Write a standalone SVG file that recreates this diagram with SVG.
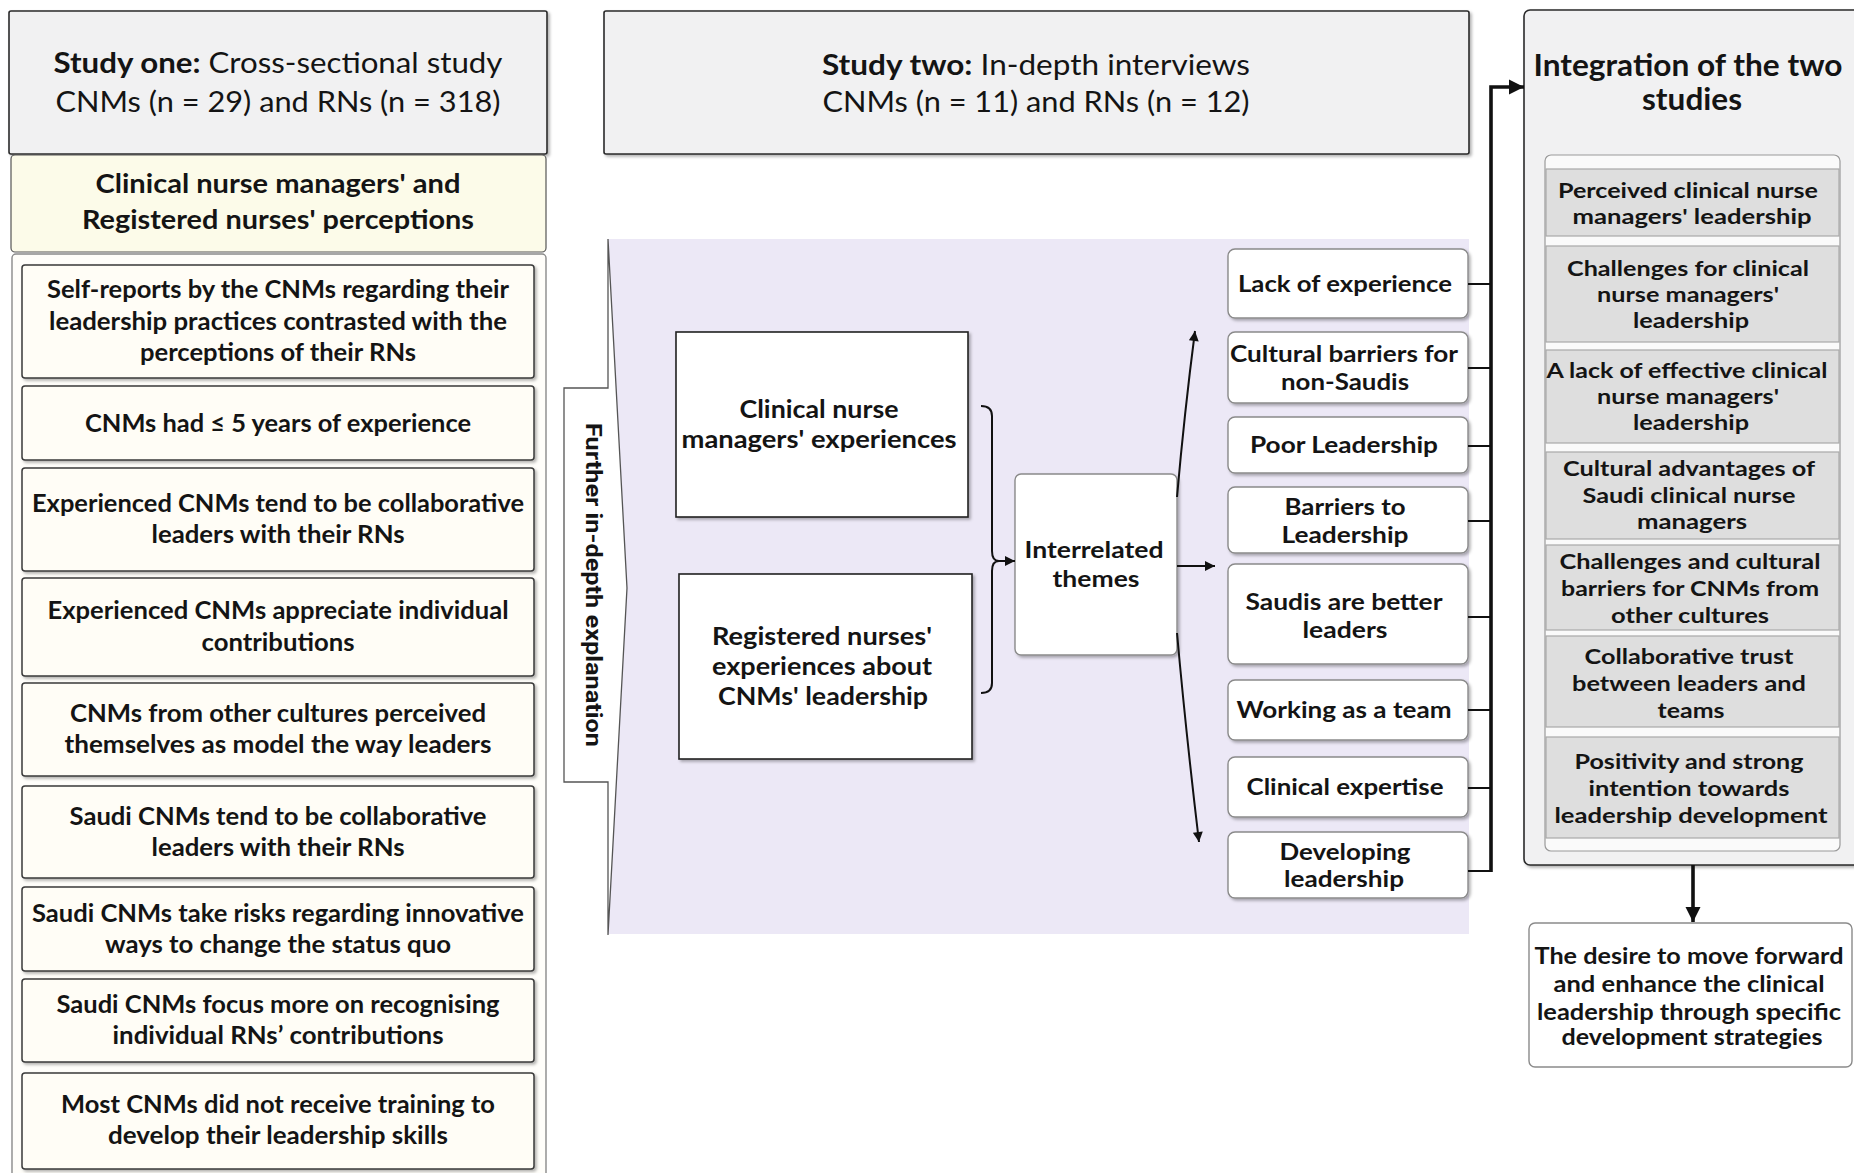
<svg xmlns="http://www.w3.org/2000/svg" width="1854" height="1173" viewBox="0 0 1854 1173">
  <defs>
    <style>
      text { font-family: Lato, "Liberation Sans", sans-serif; fill: #141414; text-anchor: middle; }
      .b { font-weight: 700; }
      .hdr { font-size: 28px; }
      .cream { font-size: 27px; font-weight: 700; }
      .item { font-size: 25.5px; font-weight: 700; }
      .mid { font-size: 25.5px; font-weight: 700; }
      .theme { font-size: 23.5px; font-weight: 700; }
      .intg { font-size: 30px; font-weight: 700; }
      .res { font-size: 21.5px; font-weight: 700; }
      .fin { font-size: 23px; font-weight: 700; }
      .side { font-family: Roboto, "Liberation Sans", sans-serif; font-size: 22px; font-weight: 700; }
      .studybox { fill: #f1f1f2; stroke: #2a2a2a; stroke-width: 1.6; }
      .itembox { fill: #fffdf6; stroke: #3a3a3a; stroke-width: 1.5; }
      .plainbox { fill: #ffffff; stroke: #222; stroke-width: 1.6; }
      .themebox { fill: #ffffff; stroke: #8a8a8a; stroke-width: 1.4; }
      .resbox { fill: #dedede; stroke: #a8a8a8; stroke-width: 1.2; }
      .thin { fill: none; stroke: #111; stroke-width: 2; }
      .thick { fill: none; stroke: #111; stroke-width: 3.6; }
    </style>
    <filter id="sh" x="-5%" y="-5%" width="115%" height="120%">
      <feDropShadow dx="2" dy="2" stdDeviation="1.5" flood-color="#000" flood-opacity="0.3"/>
    </filter>
    <marker id="ah" viewBox="0 0 10 10" refX="10" refY="5" markerWidth="11" markerHeight="10" markerUnits="userSpaceOnUse" orient="auto">
      <path d="M0,0 L10,5 L0,10 z" fill="#111"/>
    </marker>
    <marker id="ahBig" viewBox="0 0 10 10" refX="10" refY="5" markerWidth="15" markerHeight="16" markerUnits="userSpaceOnUse" orient="auto">
      <path d="M0,0 L10,5 L0,10 z" fill="#111"/>
    </marker>
  </defs>

  <rect width="1854" height="1173" fill="#ffffff"/>

  <!-- Study one column -->
  <g id="study-one">
    <rect class="studybox" x="9" y="11" width="538" height="143" rx="2" filter="url(#sh)"/>
    <text class="hdr" x="278" y="73" textLength="449" lengthAdjust="spacingAndGlyphs"><tspan class="b">Study one:</tspan> Cross-sectional study</text>
    <text class="hdr" x="278" y="112" textLength="445" lengthAdjust="spacingAndGlyphs">CNMs (n = 29) and RNs (n = 318)</text>
  </g>

  <g id="perceptions-header">
    <rect x="11" y="155" width="535" height="97" rx="4" fill="#fcfbe9" stroke="#555" stroke-width="1.2"/>
    <text class="cream" x="278" y="193" textLength="365" lengthAdjust="spacingAndGlyphs">Clinical nurse managers' and</text>
    <text class="cream" x="278" y="229" textLength="392" lengthAdjust="spacingAndGlyphs">Registered nurses' perceptions</text>
  </g>

  <g id="findings-list">
    <rect x="12" y="254" width="534" height="940" rx="4" fill="#fffefa" stroke="#8a8a8a" stroke-width="1.4"/>

    <g id="f1">
      <rect class="itembox" x="22" y="265" width="512" height="113" rx="3" filter="url(#sh)"/>
      <text class="item" x="278" y="298" textLength="462" lengthAdjust="spacingAndGlyphs">Self-reports by the CNMs regarding their</text>
      <text class="item" x="278" y="330" textLength="458" lengthAdjust="spacingAndGlyphs">leadership practices contrasted with the</text>
      <text class="item" x="278" y="361" textLength="276" lengthAdjust="spacingAndGlyphs">perceptions of their RNs</text>
    </g>
    <g id="f2">
      <rect class="itembox" x="22" y="386" width="512" height="74" rx="3" filter="url(#sh)"/>
      <text class="item" x="278" y="432" textLength="386" lengthAdjust="spacingAndGlyphs">CNMs had ≤ 5 years of experience</text>
    </g>
    <g id="f3">
      <rect class="itembox" x="22" y="468" width="512" height="103" rx="3" filter="url(#sh)"/>
      <text class="item" x="278" y="512" textLength="492" lengthAdjust="spacingAndGlyphs">Experienced CNMs tend to be collaborative</text>
      <text class="item" x="278" y="543" textLength="253" lengthAdjust="spacingAndGlyphs">leaders with their RNs</text>
    </g>
    <g id="f4">
      <rect class="itembox" x="22" y="578" width="512" height="98" rx="3" filter="url(#sh)"/>
      <text class="item" x="278" y="619" textLength="461" lengthAdjust="spacingAndGlyphs">Experienced CNMs appreciate individual</text>
      <text class="item" x="278" y="651" textLength="153" lengthAdjust="spacingAndGlyphs">contributions</text>
    </g>
    <g id="f5">
      <rect class="itembox" x="22" y="683" width="512" height="93" rx="3" filter="url(#sh)"/>
      <text class="item" x="278" y="722" textLength="416" lengthAdjust="spacingAndGlyphs">CNMs from other cultures perceived</text>
      <text class="item" x="278" y="753" textLength="427" lengthAdjust="spacingAndGlyphs">themselves as model the way leaders</text>
    </g>
    <g id="f6">
      <rect class="itembox" x="22" y="786" width="512" height="92" rx="3" filter="url(#sh)"/>
      <text class="item" x="278" y="825" textLength="417" lengthAdjust="spacingAndGlyphs">Saudi CNMs tend to be collaborative</text>
      <text class="item" x="278" y="856" textLength="253" lengthAdjust="spacingAndGlyphs">leaders with their RNs</text>
    </g>
    <g id="f7">
      <rect class="itembox" x="22" y="887" width="512" height="84" rx="3" filter="url(#sh)"/>
      <text class="item" x="278" y="922" textLength="492" lengthAdjust="spacingAndGlyphs">Saudi CNMs take risks regarding innovative</text>
      <text class="item" x="278" y="953" textLength="346" lengthAdjust="spacingAndGlyphs">ways to change the status quo</text>
    </g>
    <g id="f8">
      <rect class="itembox" x="22" y="979" width="512" height="83" rx="3" filter="url(#sh)"/>
      <text class="item" x="278" y="1013" textLength="443" lengthAdjust="spacingAndGlyphs">Saudi CNMs focus more on recognising</text>
      <text class="item" x="278" y="1044" textLength="331" lengthAdjust="spacingAndGlyphs">individual RNs’ contributions</text>
    </g>
    <g id="f9">
      <rect class="itembox" x="22" y="1073" width="512" height="96" rx="3" filter="url(#sh)"/>
      <text class="item" x="278" y="1113" textLength="434" lengthAdjust="spacingAndGlyphs">Most CNMs did not receive training to</text>
      <text class="item" x="278" y="1144" textLength="340" lengthAdjust="spacingAndGlyphs">develop their leadership skills</text>
    </g>
  </g>

  <!-- Study two column -->
  <g id="study-two">
    <rect class="studybox" x="604" y="11" width="865" height="143" rx="2" filter="url(#sh)"/>
    <text class="hdr" x="1036" y="75" textLength="428" lengthAdjust="spacingAndGlyphs"><tspan class="b">Study two:</tspan> In-depth interviews</text>
    <text class="hdr" x="1036" y="112" textLength="427" lengthAdjust="spacingAndGlyphs">CNMs (n = 11) and RNs (n = 12)</text>
  </g>

  <g id="interview-panel">
    <rect x="608" y="239" width="861" height="695" fill="#ece8f6"/>
  </g>

  <g id="further-explanation">
    <path d="M564,388 L608,388 L608,239 L627,588 L608,935 L608,782 L564,782 Z" fill="#ffffff" stroke="#555" stroke-width="1.3" stroke-linejoin="miter"/>
    <text class="side" transform="translate(586,585) rotate(90)" x="0" y="0" textLength="324" lengthAdjust="spacingAndGlyphs">Further in-depth explanation</text>
  </g>

  <g id="cnm-experiences">
    <rect class="plainbox" x="676" y="332" width="292" height="185" filter="url(#sh)"/>
    <text class="mid" x="819" y="418" textLength="159" lengthAdjust="spacingAndGlyphs">Clinical nurse</text>
    <text class="mid" x="819" y="448" textLength="275" lengthAdjust="spacingAndGlyphs">managers' experiences</text>
  </g>

  <g id="rn-experiences">
    <rect class="plainbox" x="679" y="574" width="293" height="185" filter="url(#sh)"/>
    <text class="mid" x="822" y="645" textLength="220" lengthAdjust="spacingAndGlyphs">Registered nurses'</text>
    <text class="mid" x="822" y="675" textLength="220" lengthAdjust="spacingAndGlyphs">experiences about</text>
    <text class="mid" x="823" y="705" textLength="210" lengthAdjust="spacingAndGlyphs">CNMs' leadership</text>
  </g>

  <g id="interrelated-themes">
    <rect class="themebox" x="1015" y="474" width="162" height="181" rx="6" filter="url(#sh)"/>
    <text class="theme" x="1094" y="558" textLength="139" lengthAdjust="spacingAndGlyphs">Interrelated</text>
    <text class="theme" x="1096" y="587" textLength="87" lengthAdjust="spacingAndGlyphs">themes</text>
  </g>

  <g id="theme-lack-of-experience">
    <rect class="themebox" x="1228" y="249" width="240" height="69" rx="7" filter="url(#sh)"/>
    <text class="theme" x="1345" y="292" textLength="214" lengthAdjust="spacingAndGlyphs">Lack of experience</text>
  </g>
  <g id="theme-cultural-barriers">
    <rect class="themebox" x="1228" y="332" width="240" height="71" rx="7" filter="url(#sh)"/>
    <text class="theme" x="1344" y="362" textLength="228" lengthAdjust="spacingAndGlyphs">Cultural barriers for</text>
    <text class="theme" x="1345" y="390" textLength="128" lengthAdjust="spacingAndGlyphs">non-Saudis</text>
  </g>
  <g id="theme-poor-leadership">
    <rect class="themebox" x="1228" y="417" width="240" height="56" rx="7" filter="url(#sh)"/>
    <text class="theme" x="1344" y="453" textLength="188" lengthAdjust="spacingAndGlyphs">Poor Leadership</text>
  </g>
  <g id="theme-barriers">
    <rect class="themebox" x="1228" y="487" width="240" height="66" rx="7" filter="url(#sh)"/>
    <text class="theme" x="1345" y="515" textLength="121" lengthAdjust="spacingAndGlyphs">Barriers to</text>
    <text class="theme" x="1345" y="543" textLength="127" lengthAdjust="spacingAndGlyphs">Leadership</text>
  </g>
  <g id="theme-saudis-better">
    <rect class="themebox" x="1228" y="564" width="240" height="100" rx="7" filter="url(#sh)"/>
    <text class="theme" x="1344" y="610" textLength="197" lengthAdjust="spacingAndGlyphs">Saudis are better</text>
    <text class="theme" x="1345" y="638" textLength="85" lengthAdjust="spacingAndGlyphs">leaders</text>
  </g>
  <g id="theme-team">
    <rect class="themebox" x="1228" y="680" width="240" height="60" rx="7" filter="url(#sh)"/>
    <text class="theme" x="1344" y="718" textLength="215" lengthAdjust="spacingAndGlyphs">Working as a team</text>
  </g>
  <g id="theme-clinical-expertise">
    <rect class="themebox" x="1228" y="757" width="240" height="60" rx="7" filter="url(#sh)"/>
    <text class="theme" x="1345" y="795" textLength="197" lengthAdjust="spacingAndGlyphs">Clinical expertise</text>
  </g>
  <g id="theme-developing">
    <rect class="themebox" x="1228" y="832" width="240" height="66" rx="7" filter="url(#sh)"/>
    <text class="theme" x="1345" y="860" textLength="131" lengthAdjust="spacingAndGlyphs">Developing</text>
    <text class="theme" x="1344" y="887" textLength="120" lengthAdjust="spacingAndGlyphs">leadership</text>
  </g>

  <!-- Integration column -->
  <g id="integration">
    <rect class="studybox" x="1524" y="10" width="345" height="855" rx="6" filter="url(#sh)"/>
    <text class="intg" x="1688" y="76" textLength="309" lengthAdjust="spacingAndGlyphs">Integration of the two</text>
    <text class="intg" x="1692" y="110" textLength="100" lengthAdjust="spacingAndGlyphs">studies</text>
    <rect x="1545" y="155" width="295" height="696" rx="6" fill="#fafafa" stroke="#9a9a9a" stroke-width="1.2"/>

    <g id="r1">
      <rect class="resbox" x="1546" y="169" width="293" height="67"/>
      <text class="res" x="1688" y="198" textLength="260" lengthAdjust="spacingAndGlyphs">Perceived clinical nurse</text>
      <text class="res" x="1692" y="224" textLength="239" lengthAdjust="spacingAndGlyphs">managers' leadership</text>
    </g>
    <g id="r2">
      <rect class="resbox" x="1546" y="246" width="293" height="96"/>
      <text class="res" x="1688" y="276" textLength="242" lengthAdjust="spacingAndGlyphs">Challenges for clinical</text>
      <text class="res" x="1688" y="302" textLength="182" lengthAdjust="spacingAndGlyphs">nurse managers'</text>
      <text class="res" x="1691" y="328" textLength="116" lengthAdjust="spacingAndGlyphs">leadership</text>
    </g>
    <g id="r3">
      <rect class="resbox" x="1546" y="350" width="293" height="93"/>
      <text class="res" x="1687" y="378" textLength="281" lengthAdjust="spacingAndGlyphs">A lack of effective clinical</text>
      <text class="res" x="1688" y="404" textLength="182" lengthAdjust="spacingAndGlyphs">nurse managers'</text>
      <text class="res" x="1691" y="430" textLength="116" lengthAdjust="spacingAndGlyphs">leadership</text>
    </g>
    <g id="r4">
      <rect class="resbox" x="1546" y="452" width="293" height="87"/>
      <text class="res" x="1689" y="476" textLength="252" lengthAdjust="spacingAndGlyphs">Cultural advantages of</text>
      <text class="res" x="1689" y="503" textLength="213" lengthAdjust="spacingAndGlyphs">Saudi clinical nurse</text>
      <text class="res" x="1692" y="529" textLength="110" lengthAdjust="spacingAndGlyphs">managers</text>
    </g>
    <g id="r5">
      <rect class="resbox" x="1546" y="545" width="293" height="85"/>
      <text class="res" x="1690" y="569" textLength="261" lengthAdjust="spacingAndGlyphs">Challenges and cultural</text>
      <text class="res" x="1690" y="596" textLength="258" lengthAdjust="spacingAndGlyphs">barriers for CNMs from</text>
      <text class="res" x="1690" y="623" textLength="158" lengthAdjust="spacingAndGlyphs">other cultures</text>
    </g>
    <g id="r6">
      <rect class="resbox" x="1546" y="636" width="293" height="91"/>
      <text class="res" x="1689" y="664" textLength="209" lengthAdjust="spacingAndGlyphs">Collaborative trust</text>
      <text class="res" x="1689" y="691" textLength="234" lengthAdjust="spacingAndGlyphs">between leaders and</text>
      <text class="res" x="1691" y="718" textLength="67" lengthAdjust="spacingAndGlyphs">teams</text>
    </g>
    <g id="r7">
      <rect class="resbox" x="1546" y="737" width="293" height="101"/>
      <text class="res" x="1689" y="769" textLength="229" lengthAdjust="spacingAndGlyphs">Positivity and strong</text>
      <text class="res" x="1689" y="796" textLength="201" lengthAdjust="spacingAndGlyphs">intention towards</text>
      <text class="res" x="1691" y="823" textLength="273" lengthAdjust="spacingAndGlyphs">leadership development</text>
    </g>
  </g>

  <g id="development-strategies">
    <rect class="themebox" x="1529" y="923" width="323" height="144" rx="6" stroke="#888"/>
    <text class="fin" x="1689" y="964" textLength="309" lengthAdjust="spacingAndGlyphs">The desire to move forward</text>
    <text class="fin" x="1689" y="992" textLength="271" lengthAdjust="spacingAndGlyphs">and enhance the clinical</text>
    <text class="fin" x="1689" y="1020" textLength="304" lengthAdjust="spacingAndGlyphs">leadership through specific</text>
    <text class="fin" x="1692" y="1045" textLength="261" lengthAdjust="spacingAndGlyphs">development strategies</text>
  </g>

  <!-- Connectors -->
  <g id="connectors">
    <!-- bracket joining the two experience boxes -->
    <path class="thin" d="M981,406 Q992,406 992,416 L992,551 Q992,561 999,561 Q992,561 992,571 L992,683 Q992,693 981,693"/>
    <path class="thin" d="M997,561 L1015,561" marker-end="url(#ah)"/>

    <!-- fan out from the themes box -->
    <path class="thin" d="M1177,497 C1182,440 1188,385 1195,331" marker-end="url(#ah)"/>
    <path class="thin" d="M1177,566 L1215,566" marker-end="url(#ah)"/>
    <path class="thin" d="M1177,633 C1183,700 1191,775 1199,842" marker-end="url(#ah)"/>

    <!-- collector bus from the themes to the integration panel -->
    <path class="thin" d="M1468,284 L1491,284 M1468,368 L1491,368 M1468,446 L1491,446 M1468,521 L1491,521 M1468,617 L1491,617 M1468,710 L1491,710 M1468,788 L1491,788 M1468,871 L1491,871"/>
    <path class="thick" d="M1491,872 L1491,87 L1524,87" marker-end="url(#ahBig)"/>

    <!-- integration to development strategies -->
    <path class="thick" d="M1693,865 L1693,922" marker-end="url(#ahBig)"/>
  </g>
</svg>
